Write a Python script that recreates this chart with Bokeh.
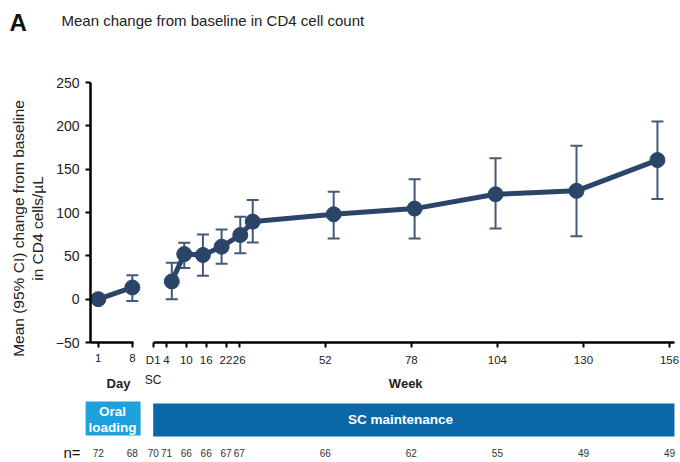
import math
from bokeh.plotting import figure
from bokeh.models import Range1d, FixedTicker
from bokeh.layouts import column, row
from bokeh.embed import file_html
from bokeh.resources import INLINE
from bokeh.core.properties import value

# ---------------- data ----------------
day_x = [1, 8]
day_mean = [0, 13.5]
day_lo = [0, -2]
day_hi = [0, 27.5]
n_day = [72, 68]

week_x = [0, 4, 10, 16, 22, 26, 52, 78, 104, 130, 156]
week_mean = [20.5, 52, 51, 60.5, 74, 89.5, 98, 104.5, 121, 125, 160.5]
week_lo = [0, 36, 27, 41, 53, 65.5, 70, 70, 81.5, 72.5, 115.5]
week_hi = [42, 65, 74.5, 80.5, 95, 114.5, 124, 138.5, 162.5, 177, 205]
n_week = [70, 71, 66, 66, 67, 67, 66, 62, 55, 49, 49]

day_ticks = [1, 8]
week_ticks = [0, 4, 10, 16, 22, 26, 52, 78, 104, 130, 156]
week_tick_labels = ["D1", "4", "10", "16", "22", "26", "52", "78", "104", "130", "156"]
y_ticks = [-50, 0, 50, 100, 150, 200, 250]

title_letter = "A"
title_text = "Mean change from baseline in CD4 cell count"
y_label_lines = ["Mean (95% CI) change from baseline", "in CD4 cells/\u00b5L"]

# ---------------- style ----------------
FONT = "Liberation Sans"
LINE_C = "#2b4569"
ERR_C = "#44597a"
LIGHT_BLUE = "#1ea0dc"
DARK_BLUE = "#0b68a8"
TXT = "#222222"

DAY_RANGE = (-0.6, 10.5)
WEEK_RANGE = (-2.63, 159.32)
WEEK_DATA_RANGE = (-8.77, 163.41)
LAB_W = 48
LEFT_W, RIGHT_W = 144, 536
YAX_W = 90
TOP_H, MAIN_H, BOT_H = 60, 312, 90


def clean(p):
    p.grid.visible = False
    p.outline_line_color = None
    p.background_fill_color = "white"
    p.border_fill_color = "white"


def style_xaxis(ax, ticks):
    ax.ticker = FixedTicker(ticks=ticks)
    ax.axis_line_width = 2.5
    ax.axis_line_color = "black"
    ax.major_tick_line_width = 2
    ax.major_tick_line_color = "black"
    ax.major_tick_out = 5
    ax.major_tick_in = 0
    ax.minor_tick_line_color = None
    ax.major_label_standoff = 6
    ax.major_label_text_font = FONT
    ax.major_label_text_font_size = "11.5px"
    ax.major_label_text_color = TXT


def bare(width, height, xr, yr):
    p = figure(width=width, height=height, x_range=xr, y_range=yr,
               output_backend="svg", toolbar_location=None, title=None,
               x_axis_location=None, y_axis_location=None,
               min_border_left=0, min_border_right=0, min_border_top=0, min_border_bottom=0)
    clean(p)
    return p


# ---------------- title row ----------------
tf = bare(LEFT_W + RIGHT_W, TOP_H, Range1d(0, LEFT_W + RIGHT_W), Range1d(TOP_H, 0))
tf.text(x=[9], y=[22], text=[title_letter], text_font=value(FONT), text_font_size="24px",
        text_font_style="bold", text_color="#111111", text_align="left", text_baseline="middle")
tf.text(x=[61], y=[20], text=[title_text], text_font=value(FONT), text_font_size="15px",
        text_color=TXT, text_align="left", text_baseline="middle")

# ---------------- y-axis title column ----------------
lab = bare(LAB_W, MAIN_H, Range1d(0, LAB_W), Range1d(0, MAIN_H))
lab.frame_align = False
lab.text(x=[17.5, 37], y=[MAIN_H - 168, MAIN_H - 168], text=y_label_lines, angle=math.pi / 2,
         text_font=value(FONT), text_font_size="15.5px", text_color=TXT,
         text_align="center", text_baseline="middle")

# ---------------- main left (days) ----------------
yr = Range1d(-50, 250)
left = figure(width=LEFT_W - LAB_W, height=MAIN_H, x_range=Range1d(*DAY_RANGE), y_range=yr,
              output_backend="svg", toolbar_location=None, title=None,
              min_border_left=YAX_W - LAB_W, min_border_right=0, min_border_top=22,
              min_border_bottom=30)
clean(left)
style_xaxis(left.xaxis[0], day_ticks)
left.xaxis[0].bounds = (DAY_RANGE[0], 8.3)
ya = left.yaxis[0]
ya.ticker = FixedTicker(ticks=y_ticks)
ya.axis_line_width = 2.5
ya.axis_line_color = "black"
ya.major_tick_line_width = 2
ya.major_tick_out = 5
ya.major_tick_in = 0
ya.minor_tick_line_color = None
ya.major_label_standoff = 6
ya.major_label_text_font = FONT
ya.major_label_text_font_size = "14px"
ya.major_label_text_color = TXT

left.segment(x0=day_x, y0=day_lo, x1=day_x, y1=day_hi, line_color=ERR_C, line_width=2)
left.scatter(x=day_x, y=day_hi, marker="dash", size=12, line_color=ERR_C, line_width=2)
left.scatter(x=day_x, y=day_lo, marker="dash", size=12, line_color=ERR_C, line_width=2)
left.line(x=day_x, y=day_mean, line_color=LINE_C, line_width=5)
left.scatter(x=day_x, y=day_mean, marker="circle", size=15, fill_color=LINE_C, line_color=LINE_C)

# ---------------- main right (weeks) ----------------
right = figure(width=RIGHT_W, height=MAIN_H, x_range=Range1d(*WEEK_RANGE), y_range=yr,
               output_backend="svg", toolbar_location=None, title=None, y_axis_location=None,
               min_border_left=0, min_border_right=0, min_border_top=22, min_border_bottom=30)
clean(right)
right.extra_x_ranges = {"data": Range1d(*WEEK_DATA_RANGE)}
style_xaxis(right.xaxis[0], week_ticks)
right.xaxis[0].bounds = (0, 157.5)
right.xaxis[0].major_label_overrides = {t: l for t, l in zip(week_ticks, week_tick_labels)}

right.segment(x0=week_x, y0=week_lo, x1=week_x, y1=week_hi, line_color=ERR_C, line_width=2,
              x_range_name="data")
right.scatter(x=week_x, y=week_hi, marker="dash", size=12, line_color=ERR_C, line_width=2,
              x_range_name="data")
right.scatter(x=week_x, y=week_lo, marker="dash", size=12, line_color=ERR_C, line_width=2,
              x_range_name="data")
right.line(x=week_x, y=week_mean, line_color=LINE_C, line_width=5, x_range_name="data")
right.scatter(x=week_x, y=week_mean, marker="circle", size=15, fill_color=LINE_C,
              line_color=LINE_C, x_range_name="data")

# ---------------- bottom row ----------------
px_per_day = (LEFT_W - YAX_W) / (DAY_RANGE[1] - DAY_RANGE[0])
bl_range = Range1d(DAY_RANGE[0] - YAX_W / px_per_day, DAY_RANGE[1])
by = Range1d(BOT_H, 0)

bl = bare(LEFT_W, BOT_H, bl_range, by)
br = bare(RIGHT_W, BOT_H, right.x_range, by)

# axis titles
bl.text(x=[5.15], y=[11], text=["Day"], text_font=value(FONT), text_font_size="13px",
        text_font_style="bold", text_color=TXT, text_align="center", text_baseline="middle")
br.text(x=[0], y=[7.5], text=["SC"], text_font=value(FONT), text_font_size="12px",
        text_color=TXT, text_align="center", text_baseline="middle")
br.text(x=[76.3], y=[11], text=["Week"], text_font=value(FONT), text_font_size="13px",
        text_font_style="bold", text_color=TXT, text_align="center", text_baseline="middle")

# phase boxes
bl.quad(left=[-1.6], right=[9.7], top=[29], bottom=[63], fill_color=LIGHT_BLUE, line_color=None)
bl.text(x=[3.9, 3.9], y=[39, 55], text=["Oral", "loading"], text_font=value(FONT),
        text_font_size="13.5px", text_font_style="bold", text_color="white",
        text_align="center", text_baseline="middle")
br.quad(left=[0], right=[157.5], top=[31], bottom=[64], fill_color=DARK_BLUE, line_color=None)
br.text(x=[74.7], y=[47], text=["SC maintenance"], text_font=value(FONT),
        text_font_size="13.5px", text_font_style="bold", text_color="white",
        text_align="center", text_baseline="middle")

# n row
bl.text(x=[-2.66], y=[80], text=["n="], text_font=value(FONT), text_font_size="15px",
        text_color="#111111", text_align="right", text_baseline="middle")
bl.text(x=day_x, y=[80] * len(day_x), text=[str(v) for v in n_day], text_font=value(FONT),
        text_font_size="10px", text_color="#333333", text_align="center", text_baseline="middle")
br.text(x=week_x, y=[80] * len(week_x), text=[str(v) for v in n_week], text_font=value(FONT),
        text_font_size="10px", text_color="#333333", text_align="center", text_baseline="middle")

layout = column(tf, row(lab, left, right), row(bl, br))

open("out.html", "w").write(file_html(layout, INLINE))
